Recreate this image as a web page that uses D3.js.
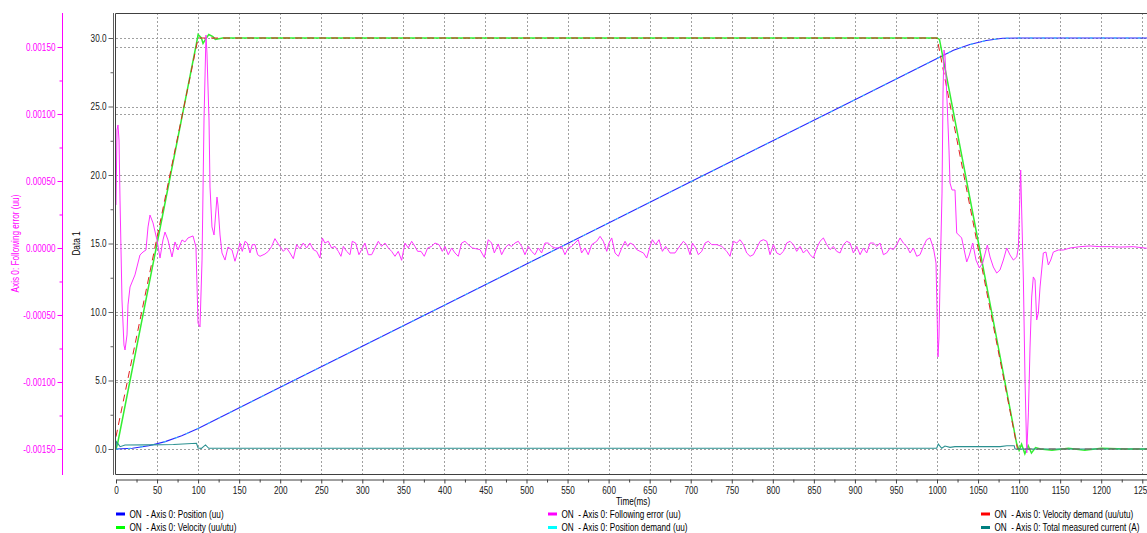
<!DOCTYPE html>
<html><head><meta charset="utf-8">
<script src="https://cdn.jsdelivr.net/npm/d3@7/dist/d3.min.js"></script>
<style>
html,body{margin:0;padding:0;background:#fff;}
svg{display:block;font-family:"Liberation Sans",Arial,sans-serif;}
</style></head><body>
<svg id="chart" width="1147" height="533"></svg>
<script>
// ---------------- data ----------------
const xTicks = d3.range(0, 1251, 50);
const xMinorTicks = d3.range(25, 1260, 50);
const dataTicks = [0, 5, 10, 15, 20, 25, 30];
const dataMinorTicks = [2.5, 7.5, 12.5, 17.5, 22.5, 27.5];
const errTicks = [-0.0015, -0.001, -0.0005, 0, 0.0005, 0.001, 0.0015];
const errMinorTicks = [-0.00125, -0.00075, -0.00025, 0.00025, 0.00075, 0.00125];

// Position / position demand (uu), Data 1 axis
const posTime = [0, 20, 40, 60, 80, 100, 200, 300, 400, 500, 600, 700, 800, 900, 1000, 1020, 1040, 1060, 1080, 1100, 1275];
const posValue = [0, 0.06, 0.24, 0.54, 0.96, 1.5, 4.5, 7.5, 10.5, 13.5, 16.5, 19.5, 22.5, 25.5, 28.5, 29.1, 29.52, 29.82, 29.98, 30.0, 30.0];

// Velocity (uu/utu)
const velTime = [0, 2, 50, 98, 100, 104, 106, 109, 113, 118, 121, 130, 1000, 1003, 1050, 1097, 1100, 1103, 1107, 1111, 1115, 1120, 1126, 1140, 1160, 1180, 1200, 1230, 1275];
const velValue = [0, 0.4, 15.0, 29.6, 30.25, 30.0, 29.6, 29.9, 30.25, 30.1, 29.9, 30.0, 30.0, 29.9, 15.2, 0.4, -0.1, 0.35, -0.35, 0.25, -0.3, 0.1, 0.0, -0.1, 0.05, -0.1, 0.05, 0.0, 0.0];

// Velocity demand (uu/utu)
const velDemTime = [0, 100, 1000, 1098, 1275];
const velDemValue = [0.9, 30, 30, 0, 0];

// Total measured current (A)
const curTime = [0, 0.5, 5, 11, 40, 70, 98, 100, 104, 109, 113, 120, 400, 700, 999.6, 1001.6, 1005.7, 1009.7, 1015.8, 1021.9, 1050, 1077, 1085, 1094, 1095, 1275];
const curValue = [0, 0.53, 0.17, 0.29, 0.3, 0.33, 0.42, 0.07, 0.05, 0.3, 0.05, 0.06, 0.06, 0.06, 0.06, 0.36, 0.05, 0.22, 0.12, 0.17, 0.17, 0.17, 0.24, 0.24, 0.0, 0.0];

// Following error (uu), left axis
const errTime = [0, 1.2, 2.4, 3.7, 4.9, 7.3, 9.7, 11.0, 13.4, 14.6, 17.1, 23.1, 29.2, 32.9, 36.5, 39.0, 41.4, 45.1, 49.9, 53.6, 57.2, 59.7, 63.3, 68.2, 71.9, 75.5, 80.4, 84.0, 87.7, 93.8, 97.4, 99.9, 102.3, 104.8, 107.2, 109.6, 110.8, 113.3, 114.5, 116.9, 119.4, 123.0, 124.2, 126.7, 129.1, 132.8, 136.4, 141.3, 144.9,
 149.0, 151.0, 153.8, 157.1, 159.9, 163.2, 166.0, 169.3, 172.5, 175.4, 181.4, 185.5, 189.6, 193.6, 196.9, 199.7, 203.8, 207.8, 211.9, 216.0, 220.0, 224.1, 228.1, 232.2, 236.2, 240.3, 244.4, 248.4, 251.3, 254.5, 258.6, 262.6, 266.7, 270.8, 274.0, 276.9, 280.9, 285.0, 287.8, 291.9, 295.9, 299.2, 303.2, 307.3, 311.4, 315.4, 319.5, 323.5, 327.6, 331.7, 335.7, 339.8, 343.8, 347.9, 352.0, 356.0, 360.1, 364.1, 367.4, 371.5, 375.5, 379.6, 384.4, 388.5, 393.4, 397.4, 400.7, 404.7, 408.8, 412.9, 416.9, 421.0, 425.0, 429.1, 434.0, 438.0, 443.3, 448.6, 453.5, 457.5, 460.8, 465.6, 469.7, 473.8, 477.8, 481.9, 485.9, 490.0, 494.1, 498.1, 502.2, 506.2, 510.3, 514.4, 518.4, 522.5, 526.5, 530.6, 534.7, 538.7, 542.8, 546.8, 550.9, 555.0, 559.0, 563.1, 567.1, 571.2, 575.2,
 579.4, 585.5, 589.6, 593.6, 597.7, 600.5, 603.8, 607.8, 611.9, 616.0, 620.0, 623.3, 626.1, 630.2, 634.2, 638.3, 642.4, 646.4, 650.5, 653.3, 657.4, 661.4, 665.5, 669.5, 674.8, 680.9, 685.0, 691.1, 695.1, 699.2, 702.0, 706.1, 709.3, 713.4, 717.5, 721.5, 725.6, 731.7, 737.8, 743.9, 747.9, 752.0, 756.0, 760.1, 764.2, 768.2, 772.3, 776.3, 780.4, 784.5, 788.5, 792.6, 796.6, 800.7, 804.8, 808.8, 812.9, 816.9, 821.0, 825.1, 829.1, 833.2, 837.2, 841.3, 845.4, 849.4, 853.5, 857.5, 861.6, 865.7, 869.7, 873.8, 877.8, 881.9, 886.0, 890.0, 894.1, 898.1, 902.2, 906.3, 910.3, 914.4, 918.4, 922.5, 926.6, 930.6, 934.7, 938.7, 942.8, 946.8, 950.9, 955.0, 959.0, 963.1, 967.2, 971.2, 975.3, 979.3, 983.4, 987.4, 991.5, 995.6,
 998.8, 1001.2, 1002.4, 1003.7, 1006.1, 1007.3, 1008.5, 1009.7, 1012.2, 1014.6, 1015.8, 1018.3, 1021.9, 1024.0, 1030.0, 1036.2, 1039.4, 1043.5, 1047.5, 1051.6, 1055.6, 1061.3, 1064.6, 1068.6, 1072.7, 1076.7, 1080.8, 1084.9, 1088.9, 1093.0, 1097.1, 1099.1, 1101.9, 1105.2, 1107.2, 1109.3, 1111.3, 1113.3, 1115.3, 1117.3, 1119.4, 1121.4, 1123.4, 1125.5, 1127.5, 1129.5, 1132.7, 1135.6, 1138.5, 1141.7, 1147.8, 1153.9, 1162.0, 1174.2, 1186.4, 1198.5, 1210.7, 1222.9, 1239.1, 1255.4, 1275];
const errValue = [321e-6, 880e-6, 918e-6, 806e-6, 358e-6, -388e-6, -724e-6, -761e-6, -649e-6, -425e-6, -291e-6, -201e-6, -52e-6, -30e-6, -15e-6, 157e-6, 246e-6, 187e-6, 60e-6, -75e-6, 60e-6, 119e-6, 60e-6, -67e-6, 45e-6, -15e-6, 60e-6, 45e-6, 75e-6, 90e-6, 7e-6, -560e-6, -589e-6, -90e-6, 955e-6, 1589e-6, 1455e-6, 955e-6, 455e-6, 157e-6, 97e-6, 380e-6, 321e-6, 97e-6, -37e-6, -90e-6, 7e-6, -15e-6, -99e-6,
 -12e-6, 37e-6, -25e-6, 50e-6, 37e-6, -37e-6, 25e-6, 25e-6, -50e-6, -62e-6, -45e-6, -25e-6, 12e-6, 70e-6, 37e-6, 12e-6, -25e-6, 0, -37e-6, -80e-6, 25e-6, -5e-6, 37e-6, 0, 37e-6, -12e-6, -25e-6, -75e-6, 75e-6, 37e-6, 50e-6, 0, 12e-6, -25e-6, -62e-6, 12e-6, -25e-6, -50e-6, 50e-6, 37e-6, -50e-6, -12e-6, 37e-6, -50e-6, -50e-6, 0, 50e-6, 12e-6, 37e-6, 0, -25e-6, -62e-6, -25e-6, -92e-6, 37e-6, 0, 50e-6, 12e-6, -25e-6, -25e-6, -62e-6, 0, 12e-6, 37e-6, 25e-6, -25e-6, 12e-6, -50e-6, 0, -37e-6, -62e-6, 37e-6, 50e-6, 25e-6, 0, -5e-6, -12e-6, -70e-6, 62e-6, 37e-6, -37e-6, 30e-6, -50e-6, 0, 25e-6, 12e-6, 37e-6, 50e-6, 12e-6, -50e-6, 12e-6, -25e-6, -50e-6, 0, -37e-6, 37e-6, 37e-6, 12e-6, 0, 0, 12e-6, -50e-6, 0, 12e-6, 37e-6, 62e-6, -37e-6, 0, -50e-6,
 25e-6, 50e-6, 87e-6, 50e-6, -25e-6, 37e-6, 75e-6, -37e-6, -62e-6, 0, 50e-6, 12e-6, 37e-6, 25e-6, -12e-6, -25e-6, -37e-6, -75e-6, 12e-6, 62e-6, 25e-6, 62e-6, -25e-6, 12e-6, -37e-6, -37e-6, 0, 50e-6, 25e-6, -50e-6, 37e-6, 0, -50e-6, -25e-6, 37e-6, 50e-6, 25e-6, 25e-6, 12e-6, -25e-6, -62e-6, 50e-6, 37e-6, 62e-6, 25e-6, -37e-6, -62e-6, -50e-6, 0, 50e-6, 62e-6, 50e-6, -50e-6, 25e-6, -37e-6, -50e-6, -25e-6, 37e-6, 50e-6, 25e-6, -25e-6, 12e-6, -37e-6, -12e-6, -50e-6, -75e-6, 0, 50e-6, 75e-6, 25e-6, -12e-6, 12e-6, -25e-6, -37e-6, 25e-6, 50e-6, 37e-6, -37e-6, 12e-6, -50e-6, 0, -37e-6, 37e-6, 37e-6, 12e-6, 37e-6, -50e-6, -37e-6, 0, -12e-6, 25e-6, 75e-6, 37e-6, 12e-6, -37e-6, 0, -62e-6, -50e-6, 12e-6, 62e-6, 75e-6, 0,
 -112e-6, -813e-6, -664e-6, -239e-6, 410e-6, 1156e-6, 1477e-6, 1440e-6, 1104e-6, 731e-6, 485e-6, 433e-6, 433e-6, 112e-6, 75e-6, -104e-6, -52e-6, 37e-6, -90e-6, -149e-6, -112e-6, 22e-6, -67e-6, -142e-6, -187e-6, -164e-6, -90e-6, 0, -52e-6, -90e-6, -67e-6, 7e-6, 582e-6, -239e-6, -985e-6, -1529e-6, -1231e-6, -739e-6, -366e-6, -216e-6, -239e-6, -537e-6, -485e-6, -291e-6, -164e-6, -37e-6, -30e-6, -127e-6, -90e-6, -30e-6, -15e-6, -15e-6, 0, 10e-6, 15e-6, 10e-6, 10e-6, 7e-6, 10e-6, -2e-6, 0];

const legendItems = [
  ["ON  - Axis 0: Position (uu)", "#0000ff"],
  ["ON  - Axis 0: Velocity (uu/utu)", "#00ff00"],
  ["ON  - Axis 0: Following error (uu)", "#ff00ff"],
  ["ON  - Axis 0: Position demand (uu)", "#00ffff"],
  ["ON  - Axis 0: Velocity demand (uu/utu)", "#ff0000"],
  ["ON  - Axis 0: Total measured current (A)", "#008080"]
];

// ---------------- layout ----------------
const NARROW = 0.82;
const svg = d3.select("#chart");
const L = 116, T = 13, R = 1160, B = 474;
const x = d3.scaleLinear().domain([0, 1271.6]).range([L, R]);
const yR = d3.scaleLinear().domain([-1.825, 31.825]).range([B, T]);
const yL = d3.scaleLinear().domain([-0.0016866, 0.0017537]).range([B, T]);

function narrowTicks(sel) {
  sel.selectAll(".tick text").each(function () {
    const t = d3.select(this);
    const xv = +(t.attr("x") || 0);
    t.attr("x", xv / NARROW).attr("transform", `scale(${NARROW},1)`);
  });
}

svg.append("defs").append("clipPath").attr("id", "clip")
  .append("rect").attr("x", L).attr("y", T).attr("width", R - L).attr("height", B - T);

// grid
const grid = svg.append("g").attr("stroke", "#a0a0a0").attr("stroke-dasharray", "2,2").attr("stroke-width", 1);
xTicks.filter(d => d > 0).forEach(d => {
  const px = Math.round(x(d)) + 0.5;
  grid.append("line").attr("x1", px).attr("x2", px).attr("y1", T).attr("y2", B);
});
dataTicks.forEach(d => {
  const py = Math.round(yR(d)) + 0.5;
  grid.append("line").attr("x1", L).attr("x2", R).attr("y1", py).attr("y2", py);
});
errTicks.forEach(d => {
  const py = Math.round(yL(d)) + 0.5;
  grid.append("line").attr("x1", L).attr("x2", R).attr("y1", py).attr("y2", py);
});

// series
const plot = svg.append("g").attr("clip-path", "url(#clip)").attr("fill", "none");
const lineR = d3.line().x(d => x(d[0])).y(d => yR(d[1]));
const lineL = d3.line().x(d => x(d[0])).y(d => yL(d[1]));

plot.append("path").datum(d3.zip(posTime, posValue)).attr("d", lineR)
  .attr("stroke", "#2a2aff").attr("stroke-width", 1.1);
plot.append("path").datum(d3.zip(posTime, posValue)).attr("d", lineR)
  .attr("stroke", "#33ccff").attr("stroke-width", 1).attr("stroke-dasharray", "3,9");
plot.append("path").datum(d3.zip(velTime, velValue)).attr("d", lineR)
  .attr("stroke", "#33ee33").attr("stroke-width", 1.5);
plot.append("path").datum(d3.zip(velDemTime, velDemValue)).attr("d", lineR)
  .attr("stroke", "#e02020").attr("stroke-width", 1).attr("stroke-dasharray", "7,5");
plot.append("path").datum(d3.zip(errTime, errValue)).attr("d", lineL)
  .attr("stroke", "#ff33ff").attr("stroke-width", 1);
plot.append("path").datum(d3.zip(curTime, curValue)).attr("d", lineR)
  .attr("stroke", "#2a9090").attr("stroke-width", 1.1);

// frame
svg.append("path").attr("d", `M${R},${T + 0.5}H${L - 0.5}V${B + 0.5}H${R}`)
  .attr("fill", "none").attr("stroke", "#404040").attr("stroke-width", 1);

// Data 1 axis
const axR = svg.append("g").attr("transform", "translate(113.5,0)")
  .call(d3.axisLeft(yR).tickValues(dataTicks).tickFormat(d => d.toFixed(1)).tickSize(5).tickSizeOuter(0).tickPadding(2));
const axRm = svg.append("g").attr("transform", "translate(113.5,0)")
  .call(d3.axisLeft(yR).tickValues(dataMinorTicks).tickFormat("").tickSize(3).tickSizeOuter(0));
axRm.select(".domain").remove();
[axR, axRm].forEach(a => { a.selectAll("line,path").attr("stroke", "#606060"); });
axR.select(".domain").attr("d", `M0,${T}V${B + 1}`);
axR.selectAll("text").attr("font-size", 10).attr("fill", "#202020");
narrowTicks(axR);

// x axis
const axX = svg.append("g").attr("transform", "translate(0,479.5)")
  .call(d3.axisBottom(x).tickValues(xTicks).tickFormat(d => String(d)).tickSize(4).tickSizeOuter(0).tickPadding(3));
const axXm = svg.append("g").attr("transform", "translate(0,479.5)")
  .call(d3.axisBottom(x).tickValues(xMinorTicks).tickFormat("").tickSize(3).tickSizeOuter(0));
axXm.select(".domain").remove();
[axX, axXm].forEach(a => a.selectAll("line,path").attr("stroke", "#404040"));
axX.selectAll("text").attr("font-size", 10).attr("fill", "#202020");
narrowTicks(axX);

// left following-error axis
const axL = svg.append("g").attr("transform", "translate(62.5,0)")
  .call(d3.axisLeft(yL).tickValues(errTicks).tickFormat(d => d.toFixed(5)).tickSize(5).tickSizeOuter(0).tickPadding(2));
const axLm = svg.append("g").attr("transform", "translate(62.5,0)")
  .call(d3.axisLeft(yL).tickValues(errMinorTicks).tickFormat("").tickSize(3).tickSizeOuter(0));
axLm.select(".domain").remove();
axL.select(".domain").attr("d", `M0,${T}V${B + 1}`);
[axL, axLm].forEach(a => a.selectAll("line,path").attr("stroke", "#ff00ff"));
axL.selectAll("text").attr("font-size", 10).attr("fill", "#ff00ff");
narrowTicks(axL);

// axis titles
svg.append("text").attr("transform", `translate(19,${(T + B) / 2}) rotate(-90) scale(${NARROW},1)`)
  .attr("text-anchor", "middle").attr("font-size", 10).attr("fill", "#ff00ff")
  .text("Axis 0: Following error (uu)");
svg.append("text").attr("transform", `translate(80,${(T + B) / 2}) rotate(-90) scale(${NARROW},1)`)
  .attr("text-anchor", "middle").attr("font-size", 10).attr("fill", "#000")
  .text("Data 1");
svg.append("text").attr("transform", `translate(633,505) scale(${NARROW},1)`).attr("text-anchor", "middle")
  .attr("font-size", 10).attr("fill", "#000").text("Time(ms)");

// legend
const colX = [116, 548, 981];
const rowY = [514, 527.5];
const leg = svg.append("g");
legendItems.forEach((it, i) => {
  const cx = colX[Math.floor(i / 2)], cy = rowY[i % 2];
  leg.append("line").attr("x1", cx).attr("x2", cx + 9).attr("y1", cy).attr("y2", cy)
    .attr("stroke", it[1]).attr("stroke-width", 3);
  leg.append("text").attr("transform", `translate(${cx + 13.5},${cy + 3.5}) scale(${NARROW},1)`)
    .attr("font-size", 10).attr("fill", "#000").style("white-space", "pre").text(it[0]);
});
</script>
</body></html>
